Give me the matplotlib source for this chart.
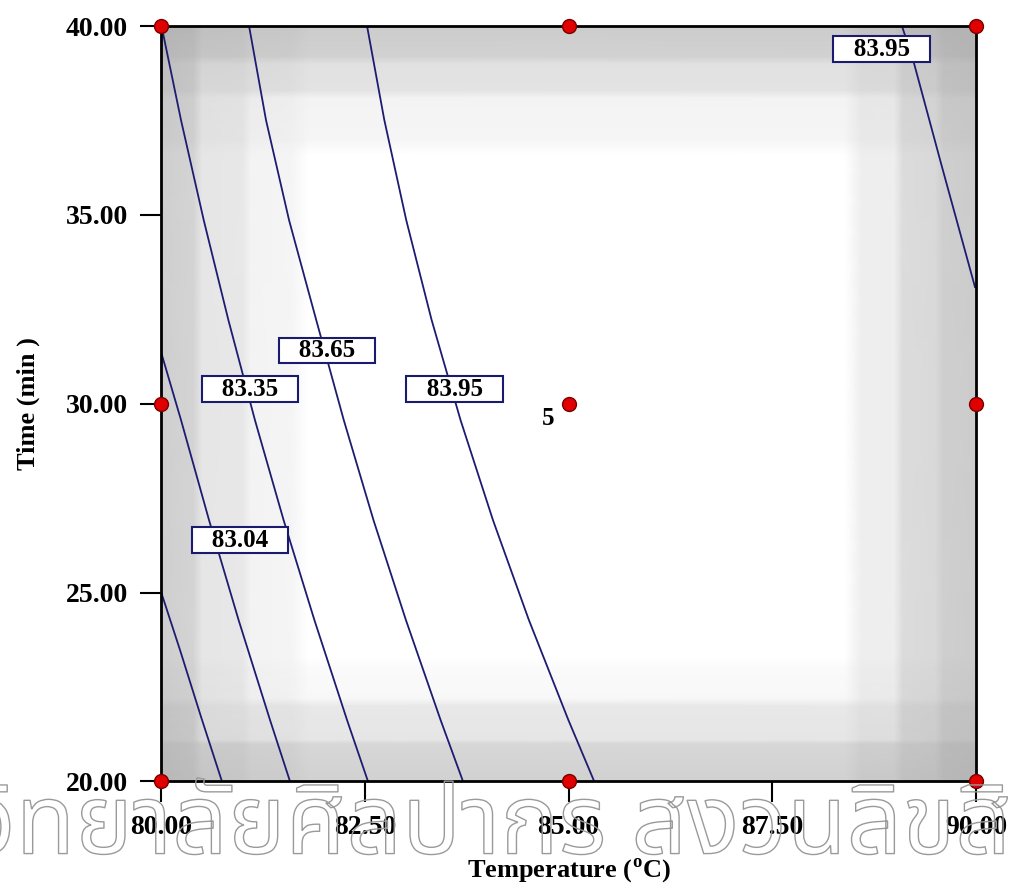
import matplotlib
matplotlib.use("Agg")
import matplotlib.pyplot as plt
import matplotlib.patheffects as pe
import numpy as np

# design points (Temperature, Time)
design_T = [80, 80, 80, 85, 85, 85, 90, 90, 90]
design_t = [20, 30, 40, 20, 30, 40, 20, 30, 40]

# contour lines (Temperature, Time)
line1_T = [80.000, 80.233, 80.491, 80.748]
line1_t = [25.02, 23.48, 21.71, 20.00]
line2_T = [80.000, 80.245, 80.589, 80.951, 81.337, 81.583]
line2_t = [31.37, 29.57, 26.92, 24.28, 21.63, 20.00]
line3_T = [80.006, 80.245, 80.524, 80.826, 81.152, 81.504, 81.881, 82.282, 82.540]
line3_t = [40.00, 37.51, 34.86, 32.22, 29.57, 26.92, 24.28, 21.63, 20.00]
line4_T = [81.080, 81.288, 81.571, 81.904, 82.242, 82.607, 83.004, 83.430, 83.706]
line4_t = [40.00, 37.51, 34.86, 32.22, 29.57, 26.92, 24.28, 21.63, 20.00]
line5_T = [82.528, 82.740, 83.009, 83.320, 83.675, 84.073, 84.513, 84.998, 85.316]
line5_t = [40.00, 37.51, 34.86, 32.22, 29.57, 26.92, 24.28, 21.63, 20.00]
line6_T = [89.092, 89.239, 89.583, 89.988]
line6_t = [40.00, 39.02, 36.27, 33.09]

label_text = ["83.04", "83.35", "83.65", "83.95", "83.95"]
label_T = [80.97, 81.09, 82.04, 83.60, 88.84]
label_t = [26.39, 30.39, 31.41, 30.39, 39.39]

# grey shading (standard error look), darkness along each axis
shade_T = [80.0, 80.4, 80.5, 81.0, 81.1, 81.6, 81.8, 88.4, 88.6, 89.0, 89.1, 89.5, 89.6, 90.0]
shade_dT = [0.19, 0.17, 0.10, 0.09, 0.05, 0.04, 0.0, 0.0, 0.07, 0.07, 0.14, 0.15, 0.19, 0.20]
shade_t = [20.0, 21.0, 21.1, 22.0, 22.2, 23.0, 23.3, 36.6, 37.0, 38.1, 38.3, 39.0, 39.2, 40.0]
shade_dt = [0.18, 0.16, 0.10, 0.09, 0.03, 0.02, 0.0, 0.0, 0.04, 0.05, 0.11, 0.12, 0.18, 0.20]

watermark = "มหาวิทยาลัยศิลปากร สงวนลิขสิทธิ์"

plt.rcParams["font.family"] = ["Liberation Serif", "DejaVu Serif"]
plt.rcParams["font.weight"] = "bold"
plt.rcParams["mathtext.fontset"] = "custom"
plt.rcParams["mathtext.rm"] = "Liberation Serif:bold"
plt.rcParams["mathtext.bf"] = "Liberation Serif:bold"

fig = plt.figure(figsize=(10.16, 8.91), dpi=100)
ax = fig.add_axes([0.1585, 0.1229, 0.8021, 0.8479])

DT, Dt = np.meshgrid(np.array(shade_dT), np.array(shade_dt))
dark = np.maximum(DT, Dt) + 0.5 * np.minimum(DT, Dt)
ax.pcolormesh(shade_T, shade_t, 1 - dark, shading="gouraud", cmap="gray",
              vmin=0, vmax=1, zorder=0)

lc = "#1c1c70"
for xs, ys in [(line1_T, line1_t), (line2_T, line2_t), (line3_T, line3_t),
               (line4_T, line4_t), (line5_T, line5_t), (line6_T, line6_t)]:
    ax.plot(xs, ys, color=lc, lw=1.3, zorder=2)

for s, x, y in zip(label_text, label_T, label_t):
    ax.text(x, y, "   " + s + "   ", ha="center", va="center", fontsize=18,
            fontweight="bold", zorder=3,
            bbox=dict(boxstyle="square,pad=0.05", fc="white", ec="#1a1a6e", lw=1.5))

ax.plot(design_T, design_t, "o", ms=10, mfc="#e00000", mec="#7a0000", mew=1,
        clip_on=False, zorder=5)
ax.text(84.75, 29.62, "5", ha="center", va="center", fontsize=18, fontweight="bold")

ax.set_xlim(80, 90)
ax.set_ylim(20, 40)
ax.set_xticks([80, 82.5, 85, 87.5, 90])
ax.set_yticks([20, 25, 30, 35, 40])
ax.xaxis.set_major_formatter(lambda v, p: f"{v:.2f}")
ax.yaxis.set_major_formatter(lambda v, p: f"{v:.2f}")
ax.tick_params(direction="out", length=15, width=1.5, pad=9, labelsize=20)
for sp in ax.spines.values():
    sp.set_linewidth(2)
ax.set_xlabel(r"Temperature ($^{\mathrm{o}}$C)", fontsize=19, fontweight="bold", labelpad=12)
ax.set_ylabel("Time (min )", fontsize=19, fontweight="bold", labelpad=18)

# watermark, outlined only
fig.text(0.46, 0.042, watermark, ha="center", va="baseline", fontsize=70,
         family=["Noto Sans Thai", "DejaVu Sans"], fontweight="normal",
         color="none", zorder=10,
         path_effects=[pe.Stroke(linewidth=1.0, foreground="#9a9a9a")])

fig.savefig("out.png", dpi=100)
